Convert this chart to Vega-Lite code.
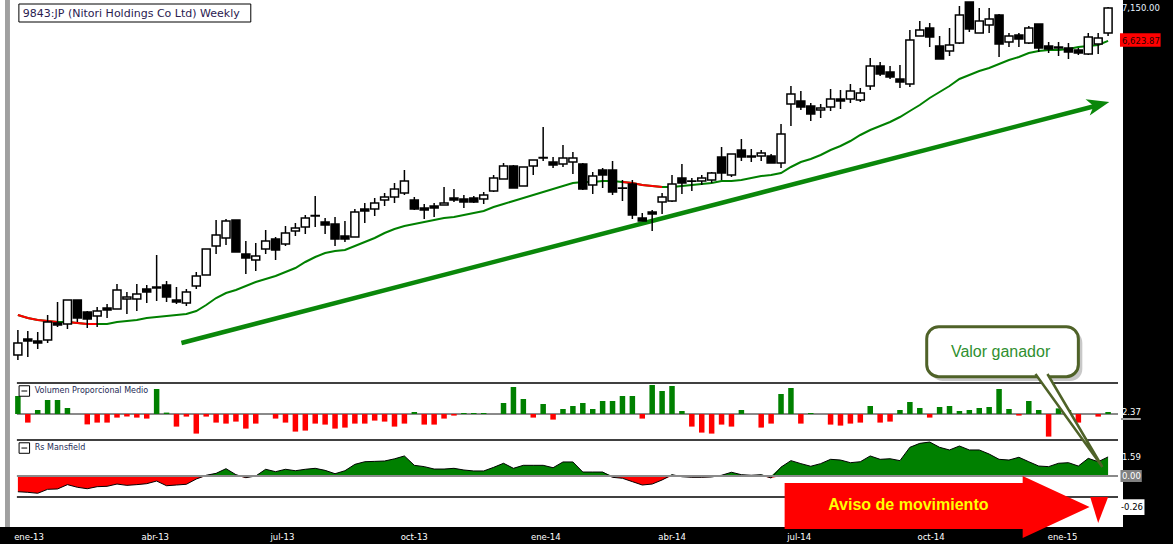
{
  "$schema": "https://vega.github.io/schema/vega-lite/v6.json",
  "width": 1123,
  "height": 527,
  "autosize": {"type": "none"},
  "padding": {"left": 0, "top": 0, "right": 50, "bottom": 17},
  "background": "black",
  "config": {"view": {"fill": "white", "stroke": null}},
  "datasets": {
    "w": [
      {"d":"2013-01-04","o":1598,"h":1998,"l":1518,"c":1790,"ma":2238,"seg":"A","v":0.9,"rs":-1.31},
      {"d":"2013-01-11","o":1854,"h":1982,"l":1566,"c":1822,"ma":2190,"seg":"A","v":-0.43,"rs":-1.36},
      {"d":"2013-01-18","o":1822,"h":1966,"l":1694,"c":1790,"ma":2158,"seg":"A","v":0.2,"rs":-1.44},
      {"d":"2013-01-25","o":1838,"h":2238,"l":1790,"c":2126,"ma":2142,"seg":"A","v":0.7,"rs":-1.11},
      {"d":"2013-02-01","o":2110,"h":2446,"l":2046,"c":2078,"ma":2126,"seg":"A","v":0.7,"rs":-1.08},
      {"d":"2013-02-08","o":2094,"h":2478,"l":2014,"c":2478,"ma":2126,"seg":"B","v":0.3,"rs":-0.72},
      {"d":"2013-02-15","o":2478,"h":2478,"l":2126,"c":2190,"ma":2110,"seg":"B","v":0,"rs":-0.94},
      {"d":"2013-02-22","o":2286,"h":2302,"l":2030,"c":2174,"ma":2094,"seg":"B","v":-0.52,"rs":-1.06},
      {"d":"2013-03-01","o":2222,"h":2366,"l":2046,"c":2302,"ma":2094,"seg":"B","v":-0.43,"rs":-0.89},
      {"d":"2013-03-08","o":2350,"h":2414,"l":2190,"c":2318,"ma":2094,"v":-0.43,"rs":-0.86},
      {"d":"2013-03-15","o":2334,"h":2734,"l":2334,"c":2638,"ma":2126,"v":-0.18,"rs":-0.67},
      {"d":"2013-03-22","o":2494,"h":2606,"l":2254,"c":2526,"ma":2142,"v":-0.13,"rs":-0.78},
      {"d":"2013-03-29","o":2494,"h":2734,"l":2302,"c":2574,"ma":2158,"v":-0.18,"rs":-0.72},
      {"d":"2013-04-05","o":2654,"h":2718,"l":2430,"c":2606,"ma":2190,"v":-0.23,"rs":-0.64},
      {"d":"2013-04-12","o":2670,"h":3198,"l":2462,"c":2686,"ma":2206,"v":1.25,"rs":-0.42},
      {"d":"2013-04-19","o":2718,"h":2782,"l":2446,"c":2526,"ma":2222,"v":0.07,"rs":-0.81},
      {"d":"2013-04-26","o":2478,"h":2686,"l":2414,"c":2446,"ma":2238,"v":-0.63,"rs":-0.75},
      {"d":"2013-05-03","o":2430,"h":2654,"l":2382,"c":2606,"ma":2254,"v":-0.13,"rs":-0.69},
      {"d":"2013-05-10","o":2702,"h":2926,"l":2654,"c":2862,"ma":2302,"v":-0.98,"rs":-0.25},
      {"d":"2013-05-17","o":2878,"h":3294,"l":2878,"c":3294,"ma":2398,"v":-0.13,"rs":0.06},
      {"d":"2013-05-24","o":3342,"h":3758,"l":3214,"c":3518,"ma":2510,"v":-0.43,"rs":0.22},
      {"d":"2013-05-31","o":3470,"h":3774,"l":3358,"c":3742,"ma":2590,"v":-0.48,"rs":0.61},
      {"d":"2013-06-07","o":3758,"h":3758,"l":3246,"c":3246,"ma":2638,"v":-0.38,"rs":0.11},
      {"d":"2013-06-14","o":3214,"h":3422,"l":2894,"c":3150,"ma":2702,"v":-0.73,"rs":-0.14},
      {"d":"2013-06-21","o":3118,"h":3390,"l":2942,"c":3182,"ma":2766,"v":-0.48,"rs":0},
      {"d":"2013-06-28","o":3294,"h":3598,"l":3214,"c":3422,"ma":2814,"v":0,"rs":0.56},
      {"d":"2013-07-05","o":3454,"h":3486,"l":3118,"c":3278,"ma":2862,"v":-0.23,"rs":0.36},
      {"d":"2013-07-12","o":3374,"h":3662,"l":3342,"c":3550,"ma":2926,"v":-0.43,"rs":0.56},
      {"d":"2013-07-19","o":3582,"h":3710,"l":3502,"c":3630,"ma":2990,"v":-0.88,"rs":0.44},
      {"d":"2013-07-26","o":3646,"h":3838,"l":3534,"c":3790,"ma":3086,"v":-0.83,"rs":0.56},
      {"d":"2013-08-02","o":3822,"h":4142,"l":3646,"c":3830,"ma":3166,"v":-0.48,"rs":0.64},
      {"d":"2013-08-09","o":3726,"h":3790,"l":3534,"c":3678,"ma":3230,"v":-0.53,"rs":0.47},
      {"d":"2013-08-16","o":3694,"h":3806,"l":3342,"c":3454,"ma":3262,"v":-0.73,"rs":0.19},
      {"d":"2013-08-23","o":3502,"h":3742,"l":3406,"c":3454,"ma":3278,"v":-0.68,"rs":0.44},
      {"d":"2013-08-30","o":3486,"h":3934,"l":3486,"c":3886,"ma":3342,"v":-0.48,"rs":0.97},
      {"d":"2013-09-06","o":3934,"h":4030,"l":3710,"c":3902,"ma":3406,"v":-0.48,"rs":1.19},
      {"d":"2013-09-13","o":3934,"h":4110,"l":3822,"c":4030,"ma":3470,"v":-0.33,"rs":1.22},
      {"d":"2013-09-20","o":4078,"h":4190,"l":3982,"c":4126,"ma":3550,"v":-0.38,"rs":1.25},
      {"d":"2013-09-27","o":4126,"h":4350,"l":4030,"c":4254,"ma":3614,"v":-0.63,"rs":1.43},
      {"d":"2013-10-04","o":4190,"h":4558,"l":4158,"c":4382,"ma":3662,"v":-0.48,"rs":1.67},
      {"d":"2013-10-11","o":4078,"h":4126,"l":3918,"c":3934,"ma":3694,"v":0.1,"rs":0.89},
      {"d":"2013-10-18","o":3950,"h":4014,"l":3774,"c":3918,"ma":3726,"v":-0.53,"rs":0.78},
      {"d":"2013-10-25","o":3982,"h":4030,"l":3806,"c":3950,"ma":3758,"v":-0.53,"rs":0.58},
      {"d":"2013-11-01","o":3998,"h":4286,"l":3998,"c":4030,"ma":3790,"v":-0.23,"rs":0.58},
      {"d":"2013-11-08","o":4110,"h":4254,"l":4046,"c":4078,"ma":3806,"v":-0.08,"rs":0.64},
      {"d":"2013-11-15","o":4094,"h":4158,"l":3950,"c":4046,"ma":3838,"v":0.05,"rs":0.5},
      {"d":"2013-11-22","o":4110,"h":4142,"l":4030,"c":4046,"ma":3870,"v":0.05,"rs":0.42},
      {"d":"2013-11-29","o":4094,"h":4206,"l":4014,"c":4158,"ma":3902,"v":0.05,"rs":0.42},
      {"d":"2013-12-06","o":4222,"h":4478,"l":4206,"c":4430,"ma":3966,"v":0,"rs":0.72},
      {"d":"2013-12-13","o":4414,"h":4670,"l":4414,"c":4622,"ma":4014,"v":0.55,"rs":1.06},
      {"d":"2013-12-20","o":4622,"h":4638,"l":4270,"c":4270,"ma":4062,"v":1.35,"rs":0.64},
      {"d":"2013-12-27","o":4302,"h":4606,"l":4302,"c":4606,"ma":4110,"v":0.75,"rs":0.89},
      {"d":"2014-01-03","o":4622,"h":4718,"l":4478,"c":4718,"ma":4158,"v":-0.18,"rs":0.89},
      {"d":"2014-01-10","o":4750,"h":5246,"l":4702,"c":4758,"ma":4206,"v":0.5,"rs":0.89},
      {"d":"2014-01-17","o":4686,"h":4766,"l":4590,"c":4638,"ma":4254,"v":-0.28,"rs":0.69},
      {"d":"2014-01-24","o":4654,"h":4958,"l":4606,"c":4750,"ma":4302,"v":0.25,"rs":1.17},
      {"d":"2014-01-31","o":4686,"h":4846,"l":4494,"c":4750,"ma":4350,"v":0.4,"rs":1.17},
      {"d":"2014-02-07","o":4654,"h":4670,"l":4238,"c":4254,"ma":4366,"v":0.55,"rs":0.33},
      {"d":"2014-02-14","o":4318,"h":4526,"l":4174,"c":4462,"ma":4366,"v":0.25,"rs":0.33},
      {"d":"2014-02-21","o":4558,"h":4590,"l":4270,"c":4478,"ma":4382,"v":0.65,"rs":0.33},
      {"d":"2014-02-28","o":4558,"h":4702,"l":4158,"c":4206,"ma":4382,"v":0.65,"rs":-0.11},
      {"d":"2014-03-07","o":4270,"h":4398,"l":4062,"c":4266,"ma":4366,"seg":"C","v":0.9,"rs":-0.19},
      {"d":"2014-03-14","o":4334,"h":4398,"l":3774,"c":3838,"ma":4350,"seg":"C","v":0.9,"rs":-0.47},
      {"d":"2014-03-21","o":3790,"h":3870,"l":3742,"c":3742,"ma":4318,"seg":"C","v":-0.23,"rs":-0.75},
      {"d":"2014-03-28","o":3886,"h":3918,"l":3582,"c":3854,"ma":4302,"seg":"C","v":1.45,"rs":-0.67},
      {"d":"2014-04-04","o":4046,"h":4190,"l":3854,"c":4126,"ma":4286,"seg":"C","v":1.15,"rs":-0.33},
      {"d":"2014-04-11","o":4062,"h":4478,"l":4046,"c":4334,"ma":4286,"v":1.4,"rs":0.11},
      {"d":"2014-04-18","o":4430,"h":4654,"l":4174,"c":4350,"ma":4302,"v":0.15,"rs":-0.06},
      {"d":"2014-04-25","o":4382,"h":4430,"l":4222,"c":4378,"ma":4318,"v":-0.63,"rs":-0.11},
      {"d":"2014-05-02","o":4382,"h":4478,"l":4318,"c":4430,"ma":4334,"v":-0.93,"rs":-0.11},
      {"d":"2014-05-09","o":4398,"h":4526,"l":4350,"c":4510,"ma":4350,"v":-0.98,"rs":-0.08},
      {"d":"2014-05-16","o":4766,"h":4926,"l":4398,"c":4510,"ma":4382,"v":-0.53,"rs":0.06},
      {"d":"2014-05-23","o":4478,"h":4814,"l":4446,"c":4814,"ma":4382,"v":-0.63,"rs":0.31},
      {"d":"2014-05-30","o":4878,"h":5054,"l":4702,"c":4766,"ma":4398,"v":0.2,"rs":0.11},
      {"d":"2014-06-06","o":4782,"h":4894,"l":4686,"c":4766,"ma":4430,"v":0,"rs":0.06},
      {"d":"2014-06-13","o":4782,"h":4878,"l":4702,"c":4830,"ma":4462,"v":-0.68,"rs":0.11},
      {"d":"2014-06-20","o":4782,"h":4814,"l":4670,"c":4670,"ma":4478,"v":-0.48,"rs":-0.17},
      {"d":"2014-06-27","o":4670,"h":5294,"l":4590,"c":5134,"ma":4510,"v":1.0,"rs":0.74},
      {"d":"2014-07-04","o":5614,"h":5902,"l":5262,"c":5774,"ma":4606,"v":1.3,"rs":1.28},
      {"d":"2014-07-11","o":5662,"h":5822,"l":5518,"c":5566,"ma":4686,"v":-0.48,"rs":1.03},
      {"d":"2014-07-18","o":5582,"h":5630,"l":5342,"c":5454,"ma":4734,"v":0.05,"rs":0.81},
      {"d":"2014-07-25","o":5518,"h":5614,"l":5390,"c":5550,"ma":4798,"v":0,"rs":1.03},
      {"d":"2014-08-01","o":5566,"h":5854,"l":5502,"c":5694,"ma":4878,"v":-0.53,"rs":1.39},
      {"d":"2014-08-08","o":5694,"h":5838,"l":5534,"c":5662,"ma":4942,"v":-0.58,"rs":1.33},
      {"d":"2014-08-15","o":5694,"h":5934,"l":5630,"c":5822,"ma":5022,"v":-0.48,"rs":1.11},
      {"d":"2014-08-22","o":5678,"h":5870,"l":5646,"c":5790,"ma":5118,"v":-0.43,"rs":1.19},
      {"d":"2014-08-29","o":5902,"h":6350,"l":5838,"c":6222,"ma":5198,"v":0.4,"rs":1.67},
      {"d":"2014-09-05","o":6222,"h":6286,"l":6062,"c":6094,"ma":5262,"v":-0.43,"rs":1.39},
      {"d":"2014-09-12","o":6126,"h":6222,"l":6014,"c":6046,"ma":5326,"v":-0.38,"rs":1.44},
      {"d":"2014-09-19","o":6014,"h":6238,"l":5870,"c":5966,"ma":5406,"v":0.2,"rs":1.28},
      {"d":"2014-09-26","o":5934,"h":6798,"l":5886,"c":6638,"ma":5502,"v":0.6,"rs":2.39},
      {"d":"2014-10-03","o":6702,"h":6942,"l":6702,"c":6798,"ma":5598,"v":0.3,"rs":2.72},
      {"d":"2014-10-10","o":6830,"h":6910,"l":6526,"c":6686,"ma":5710,"v":-0.18,"rs":2.83},
      {"d":"2014-10-17","o":6542,"h":6702,"l":6334,"c":6334,"ma":5806,"v":0.35,"rs":2.39},
      {"d":"2014-10-24","o":6462,"h":6830,"l":6382,"c":6558,"ma":5902,"v":0.4,"rs":2.17},
      {"d":"2014-10-31","o":6590,"h":7182,"l":6574,"c":7038,"ma":6014,"v":0.15,"rs":2.5},
      {"d":"2014-11-07","o":7246,"h":7246,"l":6766,"c":6814,"ma":6078,"v":0.2,"rs":2.17},
      {"d":"2014-11-14","o":6750,"h":7150,"l":6750,"c":6942,"ma":6142,"v":0.3,"rs":2.17},
      {"d":"2014-11-21","o":6878,"h":7150,"l":6750,"c":6974,"ma":6190,"v":0.35,"rs":1.83},
      {"d":"2014-11-28","o":7038,"h":7054,"l":6366,"c":6574,"ma":6254,"v":1.25,"rs":1.39},
      {"d":"2014-12-05","o":6606,"h":6750,"l":6526,"c":6702,"ma":6318,"v":0.25,"rs":1.33},
      {"d":"2014-12-12","o":6718,"h":6750,"l":6526,"c":6654,"ma":6366,"v":-0.08,"rs":1.56},
      {"d":"2014-12-19","o":6590,"h":6862,"l":6574,"c":6830,"ma":6430,"v":0.65,"rs":1.19},
      {"d":"2014-12-26","o":6894,"h":6894,"l":6446,"c":6510,"ma":6462,"v":0.2,"rs":0.83},
      {"d":"2015-01-02","o":6542,"h":6606,"l":6430,"c":6494,"ma":6478,"v":-1.13,"rs":0.78},
      {"d":"2015-01-09","o":6510,"h":6606,"l":6382,"c":6526,"ma":6478,"v":0.28,"rs":1.06},
      {"d":"2015-01-16","o":6510,"h":6590,"l":6334,"c":6446,"ma":6494,"v":0.2,"rs":1.11},
      {"d":"2015-01-23","o":6478,"h":6510,"l":6398,"c":6430,"ma":6526,"v":-0.43,"rs":0.83},
      {"d":"2015-01-30","o":6414,"h":6750,"l":6398,"c":6686,"ma":6542,"v":0,"rs":1.47},
      {"d":"2015-02-06","o":6574,"h":6750,"l":6414,"c":6670,"ma":6558,"v":-0.13,"rs":1.19},
      {"d":"2015-02-13","o":6750,"h":7166,"l":6702,"c":7150,"ma":6623.87,"v":0.1,"rs":1.59}
    ]
  },
  "encoding": {
    "x": {
      "field": "d", "type": "temporal", "title": null,
      "scale": {"type": "utc", "domain": [{"year": 2012, "month": 12, "date": 25, "hours": 21, "minutes": 36, "utc": true}, {"year": 2015, "month": 2, "date": 20, "utc": true}], "nice": false},
      "axis": {
        "values": [
          {"year": 2013, "month": 1, "date": 1, "utc": true}, {"year": 2013, "month": 4, "date": 1, "utc": true},
          {"year": 2013, "month": 7, "date": 1, "utc": true}, {"year": 2013, "month": 10, "date": 1, "utc": true},
          {"year": 2014, "month": 1, "date": 1, "utc": true}, {"year": 2014, "month": 4, "date": 1, "utc": true},
          {"year": 2014, "month": 7, "date": 1, "utc": true}, {"year": 2014, "month": 10, "date": 1, "utc": true},
          {"year": 2015, "month": 1, "date": 1, "utc": true}
        ],
        "labelExpr": "['ene','feb','mar','abr','may','jun','jul','ago','sep','oct','nov','dic'][utcmonth(datum.value)] + '-' + utcFormat(datum.value, '%y')",
        "title": null, "grid": false, "ticks": false, "domain": false,
        "labelColor": "white", "labelFont": "DejaVu Sans", "labelFontSize": 8.5,
        "labelAlign": "left", "labelBaseline": "middle", "labelPadding": 9,
        "labelFlush": false, "labelOverlap": false, "labelBound": false
      }
    }
  },
  "resolve": {"scale": {"y": "independent"}},
  "layer": [
    {
      "layer": [
        {
          "data": {"values": [{"d": "2012-12-25T21:36:00Z", "d2": "2012-12-29T09:36:00Z"}]},
          "mark": {"type": "rect", "color": "#a0a0a0"},
          "encoding": {"x2": {"field": "d2"}}
        },
        {
          "data": {"values": [{"d": "2013-01-04T16:48:00Z", "d2": "2013-06-17T12:00:00Z", "p": 7214, "p2": 6926}]},
          "mark": {"type": "rect", "fill": "white", "stroke": "black", "strokeWidth": 1},
          "encoding": {
            "x2": {"field": "d2"},
            "y": {"field": "p", "type": "quantitative", "axis": null, "scale": {"domain": [1150, 7278], "range": [383, 0], "nice": false, "zero": false}},
            "y2": {"field": "p2"}
          }
        },
        {
          "data": {"values": [{"d": "2013-01-07T12:00:00Z", "p": 7062, "t": "9843:JP (Nitori Holdings Co Ltd) Weekly"}]},
          "mark": {"type": "text", "align": "left", "baseline": "middle", "font": "DejaVu Sans", "fontSize": 11, "color": "#2a2050"},
          "encoding": {
            "y": {"field": "p", "type": "quantitative", "axis": null, "scale": {"domain": [1150, 7278], "range": [383, 0], "nice": false, "zero": false}},
            "text": {"field": "t"}
          }
        },
        {
          "data": {"values": [{"d": "2013-04-29T12:00:00Z", "p": 1790}, {"d": "2015-02-03T21:36:00Z", "p": 5582}]},
          "mark": {"type": "line", "color": "#0a870a", "strokeWidth": 4.5, "strokeCap": "butt"},
          "encoding": {
            "y": {"field": "p", "type": "quantitative", "axis": null, "scale": {"domain": [1150, 7278], "range": [383, 0], "nice": false, "zero": false}}
          }
        },
        {
          "data": {"values": [{"d": "2015-02-06T05:00:00Z", "p": 5603}]},
          "mark": {"type": "point", "shape": "M1,0L-1,-0.75L-0.45,0L-1,0.75Z", "size": 500, "filled": true, "color": "#0a870a", "opacity": 1, "angle": -14.4},
          "encoding": {
            "y": {"field": "p", "type": "quantitative", "axis": null, "scale": {"domain": [1150, 7278], "range": [383, 0], "nice": false, "zero": false}}
          }
        },
        {
          "data": {"name": "w"},
          "mark": {"type": "line", "color": "#008000", "strokeWidth": 2},
          "encoding": {
            "y": {"field": "ma", "type": "quantitative", "axis": null, "scale": {"domain": [1150, 7278], "range": [383, 0], "nice": false, "zero": false}}
          }
        },
        {
          "data": {"name": "w"},
          "transform": [{"filter": "datum.seg"}],
          "mark": {"type": "line", "color": "#ff0000", "strokeWidth": 2},
          "encoding": {
            "y": {"field": "ma", "type": "quantitative", "axis": null, "scale": {"domain": [1150, 7278], "range": [383, 0], "nice": false, "zero": false}},
            "detail": {"field": "seg"}
          }
        },
        {
          "data": {"name": "w"},
          "mark": {"type": "rule", "color": "black", "strokeWidth": 1.5},
          "encoding": {
            "y": {"field": "l", "type": "quantitative", "axis": null, "scale": {"domain": [1150, 7278], "range": [383, 0], "nice": false, "zero": false}},
            "y2": {"field": "h"}
          }
        },
        {
          "data": {"name": "w"},
          "mark": {"type": "bar", "width": 8, "stroke": "black", "strokeWidth": 1.5},
          "encoding": {
            "y": {"field": "o", "type": "quantitative", "axis": null, "scale": {"domain": [1150, 7278], "range": [383, 0], "nice": false, "zero": false}},
            "y2": {"field": "c"},
            "fill": {"condition": {"test": "datum.c >= datum.o", "value": "white"}, "value": "black"}
          }
        },
        {
          "data": {"values": [{"d": "2015-02-21T09:36:00Z", "d2": "2015-03-22T02:24:00Z", "p": 6745, "p2": 6531}]},
          "mark": {"type": "rect", "color": "#ff0000"},
          "encoding": {
            "x2": {"field": "d2"},
            "y": {"field": "p", "type": "quantitative", "axis": null, "scale": {"domain": [1150, 7278], "range": [383, 0], "nice": false, "zero": false}},
            "y2": {"field": "p2"}
          }
        },
        {
          "data": {"values": [{"d": "2015-02-22T19:12:00Z", "p": 7150, "t": "7,150.00"}]},
          "mark": {"type": "text", "align": "left", "baseline": "middle", "font": "DejaVu Sans", "fontSize": 8.5, "color": "#e6f2ff"},
          "encoding": {
            "y": {"field": "p", "type": "quantitative", "axis": null, "scale": {"domain": [1150, 7278], "range": [383, 0], "nice": false, "zero": false}},
            "text": {"field": "t"}
          }
        },
        {
          "data": {"values": [{"d": "2015-02-22T19:12:00Z", "p": 6623.87, "t": "6,623.87"}]},
          "mark": {"type": "text", "align": "left", "baseline": "middle", "font": "DejaVu Sans", "fontSize": 8.5, "color": "#2a0000"},
          "encoding": {
            "y": {"field": "p", "type": "quantitative", "axis": null, "scale": {"domain": [1150, 7278], "range": [383, 0], "nice": false, "zero": false}},
            "text": {"field": "t"}
          }
        }
      ]
    },
    {
      "layer": [
        {
          "data": {"values": [{"d": "2013-01-03T07:12:00Z", "d2": "2015-02-20T00:00:00Z", "v": 0}]},
          "mark": {"type": "rule", "color": "#8a8a8a", "strokeWidth": 2},
          "encoding": {
            "x2": {"field": "d2"},
            "y": {"field": "v", "type": "quantitative", "axis": null, "scale": {"domain": [-1.3, 1.55], "range": [440, 383], "nice": false, "zero": false}}
          }
        },
        {
          "data": {"name": "w"},
          "mark": {"type": "bar", "width": 5.5},
          "encoding": {
            "y": {"field": "v", "type": "quantitative", "axis": null, "scale": {"domain": [-1.3, 1.55], "range": [440, 383], "nice": false, "zero": false}},
            "y2": {"datum": 0},
            "color": {"condition": {"test": "datum.v >= 0", "value": "#008000"}, "value": "#ff0000"}
          }
        },
        {
          "data": {"values": [
            {"d": "2013-01-03T07:12:00Z", "d2": "2015-02-20T00:00:00Z", "v": 1.55},
            {"d": "2013-01-03T07:12:00Z", "d2": "2015-02-20T00:00:00Z", "v": -1.3}
          ]},
          "mark": {"type": "rule", "color": "black", "strokeWidth": 1.5},
          "encoding": {
            "x2": {"field": "d2"},
            "y": {"field": "v", "type": "quantitative", "axis": null, "scale": {"domain": [-1.3, 1.55], "range": [440, 383], "nice": false, "zero": false}}
          }
        },
        {
          "data": {"values": [{"d": "2013-01-08T13:12:00Z", "v": 1.15}]},
          "mark": {"type": "point", "shape": "M-1,-1L1,-1L1,1L-1,1Z M-0.55,0L0.55,0", "size": 110, "filled": true, "fill": "white", "stroke": "black", "strokeWidth": 1, "opacity": 1},
          "encoding": {
            "y": {"field": "v", "type": "quantitative", "axis": null, "scale": {"domain": [-1.3, 1.55], "range": [440, 383], "nice": false, "zero": false}}
          }
        },
        {
          "data": {"values": [{"d": "2013-01-15T21:36:00Z", "v": 1.15, "t": "Volumen Proporcional Medio"}]},
          "mark": {"type": "text", "align": "left", "baseline": "middle", "font": "DejaVu Sans", "fontSize": 8, "color": "#1c2a55"},
          "encoding": {
            "y": {"field": "v", "type": "quantitative", "axis": null, "scale": {"domain": [-1.3, 1.55], "range": [440, 383], "nice": false, "zero": false}},
            "text": {"field": "t"}
          }
        },
        {
          "data": {"values": [{"d": "2015-02-22T02:24:00Z", "d2": "2015-03-08T02:24:00Z", "v": -0.25}]},
          "mark": {"type": "rule", "color": "#a0a0a0", "strokeWidth": 2},
          "encoding": {
            "x2": {"field": "d2"},
            "y": {"field": "v", "type": "quantitative", "axis": null, "scale": {"domain": [-1.3, 1.55], "range": [440, 383], "nice": false, "zero": false}}
          }
        },
        {
          "data": {"values": [{"d": "2015-02-22T19:12:00Z", "v": 0.1, "t": "2.37"}]},
          "mark": {"type": "text", "align": "left", "baseline": "middle", "font": "DejaVu Sans", "fontSize": 8.5, "color": "white"},
          "encoding": {
            "y": {"field": "v", "type": "quantitative", "axis": null, "scale": {"domain": [-1.3, 1.55], "range": [440, 383], "nice": false, "zero": false}},
            "text": {"field": "t"}
          }
        }
      ]
    },
    {
      "data": {"name": "w"},
      "mark": {"type": "area", "color": "#008000"},
      "encoding": {
        "y": {"field": "rs", "type": "quantitative", "axis": null, "scale": {"domain": [0, 3], "range": [476, 440], "clamp": true, "nice": false, "zero": false}},
        "y2": {"datum": 0}
      }
    },
    {
      "data": {"name": "w"},
      "mark": {"type": "area", "color": "#ff0000"},
      "encoding": {
        "y": {"field": "rs", "type": "quantitative", "axis": null, "scale": {"domain": [-1.75, 0], "range": [497, 476], "clamp": true, "nice": false, "zero": false}},
        "y2": {"datum": 0}
      }
    },
    {
      "layer": [
        {
          "data": {"name": "w"},
          "mark": {"type": "line", "color": "black", "strokeWidth": 1},
          "encoding": {
            "y": {"field": "rs", "type": "quantitative", "axis": null, "scale": {"domain": [-1.75, 3], "range": [497, 440], "nice": false, "zero": false}}
          }
        },
        {
          "data": {"values": [{"d": "2013-01-03T07:12:00Z", "d2": "2015-02-20T00:00:00Z", "r": 0}]},
          "mark": {"type": "rule", "color": "#8a8a8a", "strokeWidth": 2},
          "encoding": {
            "x2": {"field": "d2"},
            "y": {"field": "r", "type": "quantitative", "axis": null, "scale": {"domain": [-1.75, 3], "range": [497, 440], "nice": false, "zero": false}}
          }
        },
        {
          "data": {"values": [{"d": "2013-01-03T07:12:00Z", "d2": "2015-02-20T00:00:00Z", "r": -1.75}]},
          "mark": {"type": "rule", "color": "black", "strokeWidth": 1.5},
          "encoding": {
            "x2": {"field": "d2"},
            "y": {"field": "r", "type": "quantitative", "axis": null, "scale": {"domain": [-1.75, 3], "range": [497, 440], "nice": false, "zero": false}}
          }
        },
        {
          "data": {"values": [{"d": "2013-01-08T13:12:00Z", "r": 2.33}]},
          "mark": {"type": "point", "shape": "M-1,-1L1,-1L1,1L-1,1Z M-0.55,0L0.55,0", "size": 110, "filled": true, "fill": "white", "stroke": "black", "strokeWidth": 1, "opacity": 1},
          "encoding": {
            "y": {"field": "r", "type": "quantitative", "axis": null, "scale": {"domain": [-1.75, 3], "range": [497, 440], "nice": false, "zero": false}}
          }
        },
        {
          "data": {"values": [{"d": "2013-01-15T21:36:00Z", "r": 2.33, "t": "Rs Mansfield"}]},
          "mark": {"type": "text", "align": "left", "baseline": "middle", "font": "DejaVu Sans", "fontSize": 8, "color": "#1c2a55"},
          "encoding": {
            "y": {"field": "r", "type": "quantitative", "axis": null, "scale": {"domain": [-1.75, 3], "range": [497, 440], "nice": false, "zero": false}},
            "text": {"field": "t"}
          }
        },
        {
          "data": {"values": [{"d": "2015-02-21T18:00:00Z", "d2": "2015-03-08T19:12:00Z", "r": 0.5, "r2": -0.5}]},
          "mark": {"type": "rect", "color": "#808080"},
          "encoding": {
            "x2": {"field": "d2"},
            "y": {"field": "r", "type": "quantitative", "axis": null, "scale": {"domain": [-1.75, 3], "range": [497, 440], "nice": false, "zero": false}},
            "y2": {"field": "r2"}
          }
        },
        {
          "data": {"values": [{"d": "2015-02-21T12:00:00Z", "d2": "2015-03-10T16:48:00Z", "r": -1.94, "r2": -3.25}]},
          "mark": {"type": "rect", "color": "white"},
          "encoding": {
            "x2": {"field": "d2"},
            "y": {"field": "r", "type": "quantitative", "axis": null, "scale": {"domain": [-1.75, 3], "range": [497, 440], "nice": false, "zero": false}},
            "y2": {"field": "r2"}
          }
        },
        {
          "data": {"values": [
            {"d": "2015-02-22T19:12:00Z", "r": 1.59, "t": "1.59"},
            {"d": "2015-02-22T19:12:00Z", "r": 0, "t": "0.00"}
          ]},
          "mark": {"type": "text", "align": "left", "baseline": "middle", "font": "DejaVu Sans", "fontSize": 8.5, "color": "white"},
          "encoding": {
            "y": {"field": "r", "type": "quantitative", "axis": null, "scale": {"domain": [-1.75, 3], "range": [497, 440], "nice": false, "zero": false}},
            "text": {"field": "t"}
          }
        },
        {
          "data": {"values": [{"d": "2015-02-22T02:24:00Z", "r": -2.6, "t": "-0.26"}]},
          "mark": {"type": "text", "align": "left", "baseline": "middle", "font": "DejaVu Sans", "fontSize": 8.5, "color": "black"},
          "encoding": {
            "y": {"field": "r", "type": "quantitative", "axis": null, "scale": {"domain": [-1.75, 3], "range": [497, 440], "nice": false, "zero": false}},
            "text": {"field": "t"}
          }
        },
        {
          "data": {"values": [{"d": "2014-10-10T18:00:00Z", "d2": "2015-01-25T19:12:00Z", "r": 12.1, "r2": 7.92}]},
          "mark": {"type": "rect", "color": "#9a9a9a", "opacity": 0.55, "cornerRadius": 12},
          "encoding": {
            "x2": {"field": "d2"},
            "y": {"field": "r", "type": "quantitative", "axis": null, "scale": {"domain": [-1.75, 3], "range": [497, 440], "nice": false, "zero": false}},
            "y2": {"field": "r2"}
          }
        },
        {
          "data": {"values": [{"d": "2014-10-07T21:36:00Z", "d2": "2015-01-23T00:00:00Z", "r": 12.44, "r2": 8.28}]},
          "mark": {"type": "rect", "fill": "white", "stroke": "#4f6228", "strokeWidth": 3, "cornerRadius": 12},
          "encoding": {
            "x2": {"field": "d2"},
            "y": {"field": "r", "type": "quantitative", "axis": null, "scale": {"domain": [-1.75, 3], "range": [497, 440], "nice": false, "zero": false}},
            "y2": {"field": "r2"}
          }
        },
        {
          "data": {"values": [{"d": "2015-01-16T08:24:00Z", "r": 4.625}]},
          "mark": {"type": "point", "shape": "M-0.72,-1L0.72,1L-0.462,-1", "size": 8649, "filled": true, "fill": "white", "stroke": "#4f6228", "strokeWidth": 2.5, "opacity": 1},
          "encoding": {
            "y": {"field": "r", "type": "quantitative", "axis": null, "scale": {"domain": [-1.75, 3], "range": [497, 440], "nice": false, "zero": false}}
          }
        },
        {
          "data": {"values": [{"d": "2014-11-29T01:12:00Z", "r": 10.33, "t": "Valor ganador"}]},
          "mark": {"type": "text", "align": "center", "baseline": "middle", "font": "Liberation Sans", "fontSize": 16, "color": "#2f8f2f"},
          "encoding": {
            "y": {"field": "r", "type": "quantitative", "axis": null, "scale": {"domain": [-1.75, 3], "range": [497, 440], "nice": false, "zero": false}},
            "text": {"field": "t"}
          }
        },
        {
          "data": {"values": [{"d": "2014-10-15T06:00:00Z", "r": -2.583}]},
          "mark": {"type": "point", "shape": "M-1,-0.157L0.561,-0.157L0.561,-0.203L1,0L0.561,0.203L0.561,0.144L-1,0.144Z", "size": 93025, "filled": true, "color": "#ff0000", "opacity": 1},
          "encoding": {
            "y": {"field": "r", "type": "quantitative", "axis": null, "scale": {"domain": [-1.75, 3], "range": [497, 440], "nice": false, "zero": false}}
          }
        },
        {
          "data": {"values": [{"d": "2015-02-06T16:48:00Z", "r": -2.833}]},
          "mark": {"type": "point", "shape": "M-0.692,-1L0.692,-1L-0.077,1Z", "size": 676, "filled": true, "color": "#ff0000", "opacity": 1},
          "encoding": {
            "y": {"field": "r", "type": "quantitative", "axis": null, "scale": {"domain": [-1.75, 3], "range": [497, 440], "nice": false, "zero": false}}
          }
        },
        {
          "data": {"values": [{"d": "2014-09-24T21:36:00Z", "r": -2.42, "t": "Aviso de movimiento"}]},
          "mark": {"type": "text", "align": "center", "baseline": "middle", "font": "Liberation Sans", "fontSize": 16, "fontWeight": "bold", "color": "#ffff00"},
          "encoding": {
            "y": {"field": "r", "type": "quantitative", "axis": null, "scale": {"domain": [-1.75, 3], "range": [497, 440], "nice": false, "zero": false}},
            "text": {"field": "t"}
          }
        }
      ]
    }
  ]
}
